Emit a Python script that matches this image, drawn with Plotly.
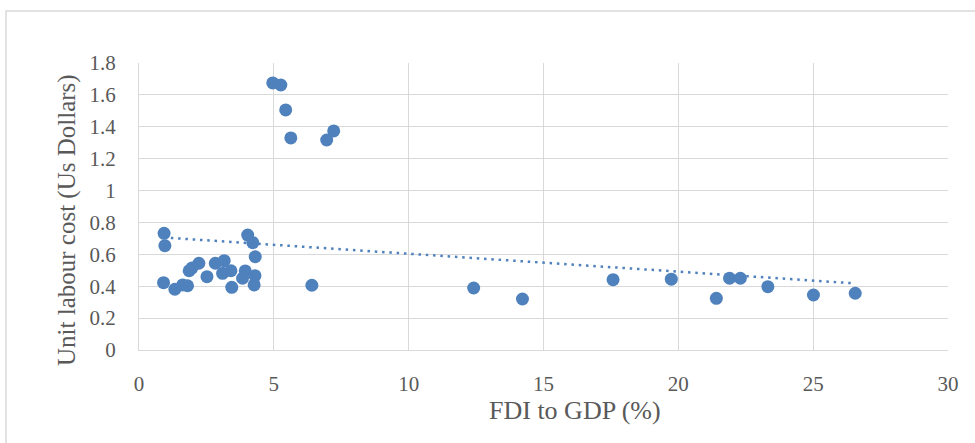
import numpy as np
import plotly.graph_objects as go

# FDI inflows as a share of GDP (%) and unit labour cost (US$)
fdi_to_gdp = [
    4.96, 5.26, 5.44, 5.63, 6.96, 7.22,
    0.93, 0.96, 0.91, 1.33, 1.62, 1.80, 1.86, 1.96, 2.22, 2.52,
    2.83, 3.16, 3.10, 3.41, 3.44, 3.94, 3.84, 4.03, 4.22, 4.31,
    4.30, 4.27, 6.41,
    12.41, 14.22, 17.58, 19.74, 21.41, 21.90, 22.30, 23.32, 25.01, 26.56,
]
unit_labour_cost = [
    1.675, 1.662, 1.506, 1.330, 1.317, 1.374,
    0.732, 0.654, 0.422, 0.381, 0.408, 0.403, 0.497, 0.514, 0.544, 0.460,
    0.544, 0.560, 0.481, 0.497, 0.393, 0.496, 0.450, 0.721, 0.673, 0.585,
    0.466, 0.408, 0.406,
    0.389, 0.320, 0.441, 0.444, 0.324, 0.450, 0.450, 0.397, 0.345, 0.356,
]

x_ticks = [0, 5, 10, 15, 20, 25, 30]
y_ticks = [0, 0.2, 0.4, 0.6, 0.8, 1, 1.2, 1.4, 1.6, 1.8]
y_tick_text = ["0", "0.2", "0.4", "0.6", "0.8", "1", "1.2", "1.4", "1.6", "1.8"]

x_title = "FDI to GDP (%)"
y_title = "Unit labour cost (Us Dollars)"

BLUE = "#4F81BD"
GRID = "#D9D9D9"
TEXT = "#595959"
FONT = "'Liberation Serif', 'Times New Roman', serif"

# Linear trend line (least squares) across the observed FDI range
xs = np.array(fdi_to_gdp)
ys = np.array(unit_labour_cost)
slope, intercept = np.polyfit(xs, ys, 1)
trend_x = np.array([xs.min(), xs.max()])
trend_y = intercept + slope * trend_x

fig = go.Figure()
fig.add_trace(go.Scatter(
    x=fdi_to_gdp, y=unit_labour_cost, mode="markers",
    marker=dict(size=13, color=BLUE, line=dict(width=0)),
    showlegend=False, hoverinfo="x+y",
))
fig.add_trace(go.Scatter(
    x=trend_x, y=trend_y, mode="lines",
    line=dict(color=BLUE, width=2.5, dash="2.5px,4.8px"),
    showlegend=False, hoverinfo="skip",
))

W, H = 975, 443
L, R, T, B = 139, 27, 63, 93
pw, ph = W - L - R, H - T - B

def px_to_paper_x(px):
    return (px - L) / pw

def px_to_paper_y(py):
    return (H - B - py) / ph

fig.update_layout(
    width=W, height=H,
    margin=dict(l=L, r=R, t=T, b=B, pad=0),
    paper_bgcolor="white", plot_bgcolor="white",
    font=dict(family=FONT, color=TEXT, size=21),
    xaxis=dict(
        range=[0, 30], tickvals=x_ticks, ticktext=[str(v) for v in x_ticks],
        showgrid=True, gridcolor=GRID, gridwidth=1.3,
        zeroline=False, showline=True, linecolor=GRID, linewidth=1.3,
        ticks="", ticklabelstandoff=15, mirror=False,
        tickfont=dict(family=FONT, color=TEXT, size=21),
    ),
    yaxis=dict(
        range=[0, 1.8], tickvals=y_ticks, ticktext=y_tick_text,
        showgrid=True, gridcolor=GRID, gridwidth=1.3,
        zeroline=False, showline=True, linecolor=GRID, linewidth=1.3,
        ticks="", ticklabelstandoff=18,
        tickfont=dict(family=FONT, color=TEXT, size=21),
    ),
    annotations=[
        dict(text=x_title, xref="paper", yref="paper",
             x=px_to_paper_x(575), y=px_to_paper_y(410),
             xanchor="center", yanchor="middle", showarrow=False,
             font=dict(family=FONT, color=TEXT, size=26)),
        dict(text=y_title, xref="paper", yref="paper",
             x=px_to_paper_x(67), y=px_to_paper_y(220),
             xanchor="center", yanchor="middle", showarrow=False, textangle=-90,
             font=dict(family=FONT, color=TEXT, size=25)),
    ],
    shapes=[
        dict(type="rect", xref="paper", yref="paper",
             x0=px_to_paper_x(6), x1=px_to_paper_x(980),
             y0=px_to_paper_y(448), y1=px_to_paper_y(11),
             line=dict(color=GRID, width=1.5), fillcolor="rgba(0,0,0,0)",
             layer="below"),
    ],
)

fig.write_html("out.html")
